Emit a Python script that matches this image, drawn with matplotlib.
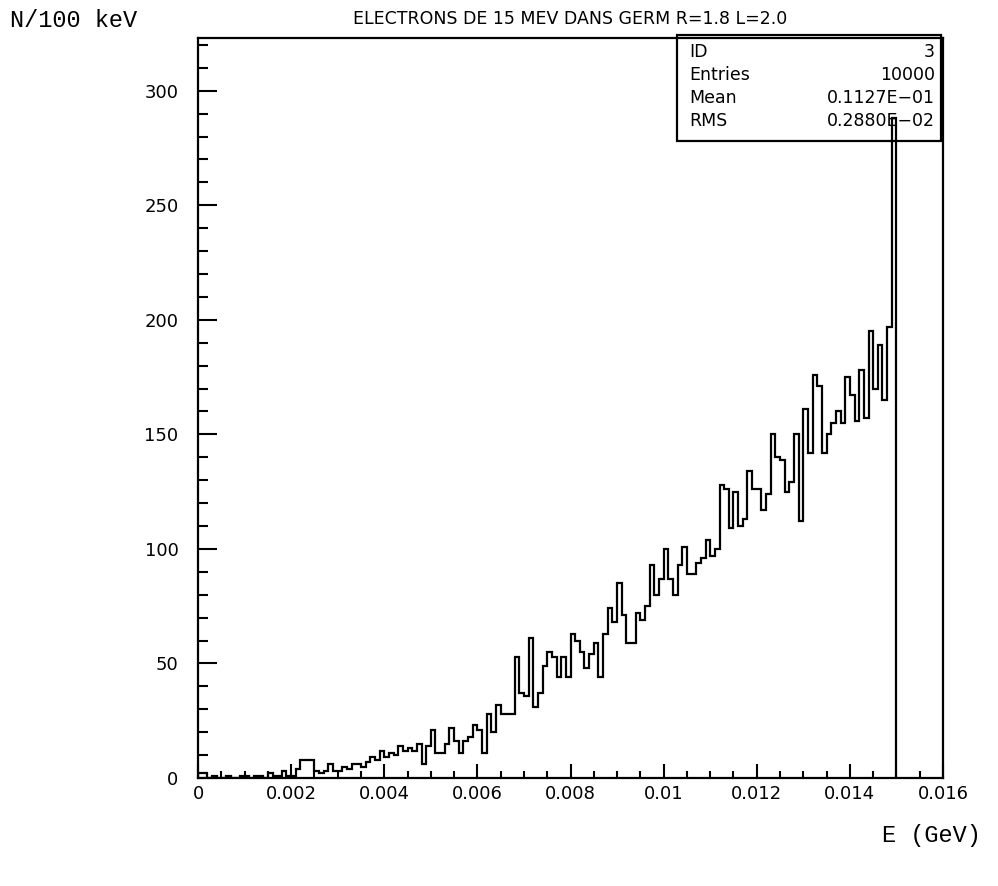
import numpy as np
import matplotlib
matplotlib.use("Agg")
import matplotlib.pyplot as plt

# counts per 100 keV bin, 0 .. 0.015 GeV (150 bins)
counts = [2, 2, 0, 1, 0, 0, 1, 0, 0, 1,
          1, 0, 1, 1, 0, 2, 1, 1, 3, 1,
          1, 4, 8, 8, 8, 3, 2, 3, 6, 3,
          3, 5, 4, 6, 6, 5, 7, 9, 8, 12,
          9, 11, 10, 14, 12, 13, 12, 15, 6, 14,
          21, 11, 11, 15, 22, 16, 11, 16, 18, 23,
          21, 11, 28, 20, 32, 28, 28, 28, 53, 37,
          36, 61, 31, 37, 49, 55, 53, 44, 53, 44,
          63, 60, 55, 48, 54, 59, 44, 63, 74, 68,
          85, 71, 59, 59, 72, 69, 75, 93, 80, 87,
          100, 87, 80, 93, 101, 89, 89, 94, 96, 104,
          97, 100, 128, 126, 109, 125, 110, 113, 134, 126,
          126, 117, 124, 150, 140, 139, 125, 129, 150, 112,
          161, 142, 176, 171, 142, 150, 155, 160, 155, 175,
          167, 156, 178, 157, 195, 170, 189, 165, 197, 288]
bin_width = 0.0001

xtick_vals = [0, 0.002, 0.004, 0.006, 0.008, 0.01, 0.012, 0.014, 0.016]
xtick_labels = ["0", "0.002", "0.004", "0.006", "0.008", "0.01", "0.012", "0.014", "0.016"]
ytick_vals = [0, 50, 100, 150, 200, 250, 300]

stat_names = ["ID", "Entries", "Mean", "RMS"]
stat_values = ["3", "10000", "0.1127E\u221201", "0.2880E\u221202"]

title = "ELECTRONS DE 15 MEV DANS GERM R=1.8 L=2.0"

edges = np.arange(len(counts) + 1) * bin_width

fig = plt.figure(figsize=(9.98, 8.86), dpi=100)
ax = fig.add_axes([0.1984, 0.1219, 0.7465, 0.8352])

ax.stairs(counts, edges, color="black", linewidth=1.6, baseline=0)

ax.set_xlim(0, 0.016)
ax.set_ylim(0, 323)

ax.set_xticks(xtick_vals)
ax.set_xticklabels(xtick_labels)
ax.set_xticks(np.arange(0, 0.0161, 0.0005), minor=True)
ax.set_yticks(ytick_vals)
ax.set_yticks(np.arange(0, 321, 10), minor=True)

ax.tick_params(axis="both", which="both", direction="in", width=1.5,
               top=False, right=False, labelsize=13)
ax.tick_params(axis="x", which="major", length=10, pad=5)
ax.tick_params(axis="x", which="minor", length=5)
ax.tick_params(axis="y", which="major", length=14, pad=14)
ax.tick_params(axis="y", which="minor", length=7)

for sp in ax.spines.values():
    sp.set_linewidth(1.6)

ax.set_title(title, fontsize=12.5, pad=10)

fig.text(0.01, 0.977, "N/100 keV", fontsize=17, family="Liberation Mono",
         ha="left", va="center")
fig.text(0.983, 0.057, "E (GeV)", fontsize=17, family="Liberation Mono",
         ha="right", va="center")

# statistics box
bx0, by0, bx1, by1 = 0.6787, 0.8412, 0.9429, 0.9601
fig.patches.append(plt.Rectangle((bx0, by0), bx1 - bx0, by1 - by0,
                                 transform=fig.transFigure, fill=False,
                                 edgecolor="black", linewidth=1.6))
row_y = [0.941, 0.915, 0.889, 0.863]
for n, v, yy in zip(stat_names, stat_values, row_y):
    fig.text(bx0 + 0.012, yy, n, fontsize=12.5, ha="left", va="center")
    fig.text(bx1 - 0.006, yy, v, fontsize=12.5, ha="right", va="center")

fig.savefig("out.png", dpi=100)
